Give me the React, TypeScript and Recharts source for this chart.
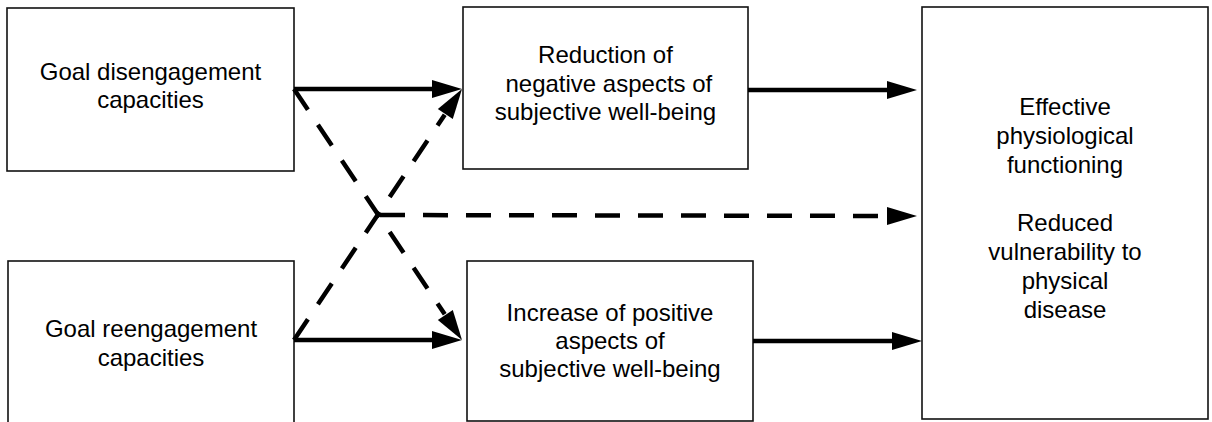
import React from "react"
import { ComposedChart, XAxis, YAxis, ReferenceArea, ReferenceLine } from "recharts"

// diagram text, one entry per box
const disengageLines = ["Goal disengagement", "capacities"]
const reengageLines = ["Goal reengagement", "capacities"]
const negativeLines = ["Reduction of", " negative aspects of", "subjective well-being"]
const positiveLines = ["Increase of positive", "aspects of", "subjective well-being"]
const outcomeLines = [
  "Effective",
  "physiological",
  "functioning",
  "",
  "Reduced",
  "vulnerability to",
  "physical",
  "disease",
]

// box extents in diagram units (x left→right, y top→bottom)
const boxes = [
  { x1: 7, x2: 294, y1: 8, y2: 171, lines: disengageLines, pad: 72, lh: 28 },
  { x1: 8, x2: 294, y1: 261, y2: 426, lines: reengageLines, pad: 76, lh: 29 },
  { x1: 463, x2: 748, y1: 7, y2: 169, lines: negativeLines, pad: 56, lh: 28.5 },
  { x1: 467, x2: 753, y1: 261, y2: 421, lines: positiveLines, pad: 60, lh: 28 },
  { x1: 922, x2: 1208, y1: 7, y2: 419, lines: outcomeLines, pad: 108, lh: 29 },
]

// paths between boxes: start → tip
const arrows = [
  { from: [294, 89], to: [462, 89], dashed: false },
  { from: [748, 90], to: [917, 90], dashed: false },
  { from: [294, 340], to: [462, 340], dashed: false },
  { from: [753, 341], to: [922, 341], dashed: false },
  { from: [294, 89], to: [462, 340], dashed: true },
  { from: [294, 340], to: [462, 89], dashed: true },
  { from: [380, 215], to: [917, 216], dashed: true },
]

const FONT = "'Liberation Sans', Arial, Helvetica, sans-serif"
const HEAD_LEN = 30
const HEAD_HALF = 9

function arrowShape(dashed: boolean) {
  return (p: any) => {
    const { x1, y1, x2, y2 } = p
    const dx = x2 - x1
    const dy = y2 - y1
    const len = Math.sqrt(dx * dx + dy * dy) || 1
    const ux = dx / len
    const uy = dy / len
    const bx = x2 - ux * HEAD_LEN
    const by = y2 - uy * HEAD_LEN
    const endX = x2 - ux * (HEAD_LEN - 2)
    const endY = y2 - uy * (HEAD_LEN - 2)
    const pts = [
      `${x2},${y2}`,
      `${bx - uy * HEAD_HALF},${by + ux * HEAD_HALF}`,
      `${bx + uy * HEAD_HALF},${by - ux * HEAD_HALF}`,
    ].join(" ")
    return (
      <g>
        <line
          x1={x1}
          y1={y1}
          x2={dashed ? x1 + ux * (len - HEAD_LEN - 1) : endX}
          y2={dashed ? y1 + uy * (len - HEAD_LEN - 1) : endY}
          stroke="#000"
          strokeWidth={4.5}
          strokeDasharray={dashed ? "25 18" : undefined}
          strokeLinecap="butt"
        />
        <polygon points={pts} fill="#000" />
      </g>
    )
  }
}

function boxShape(lines: string[], pad: number, lh: number) {
  return (p: any) => {
    const { x, y, width, height } = p
    const cx = x + width / 2
    return (
      <g>
        <rect x={x} y={y} width={width} height={height} fill="#fff" stroke="#111" strokeWidth={1.6} />
        <text textAnchor="middle" fontFamily={FONT} fontSize={24} fill="#000">
          {lines.map((t, i) => (
            <tspan key={i} x={cx} y={y + pad + i * lh} style={{ whiteSpace: "pre" }}>
              {t}
            </tspan>
          ))}
        </text>
      </g>
    )
  }
}

export default function App() {
  return (
    <div style={{ position: "absolute", left: 0, top: 0, width: 1212, height: 422, background: "#fff" }}>
      <ComposedChart width={1212} height={422} margin={{ top: 0, right: 0, bottom: 0, left: 0 }}>
        <XAxis type="number" dataKey="x" domain={[0, 1212]} allowDataOverflow hide />
        <YAxis type="number" dataKey="y" domain={[0, 422]} allowDataOverflow reversed hide />
        {boxes.map((b, i) => (
          <ReferenceArea
            key={"b" + i}
            x1={b.x1}
            x2={b.x2}
            y1={b.y1}
            y2={b.y2}
            ifOverflow="visible"
            shape={boxShape(b.lines, b.pad, b.lh)}
          />
        ))}
        {arrows.map((a, i) => (
          <ReferenceLine
            key={"a" + i}
            segment={[
              { x: a.from[0], y: a.from[1] },
              { x: a.to[0], y: a.to[1] },
            ]}
            ifOverflow="visible"
            shape={arrowShape(a.dashed)}
          />
        ))}
      </ComposedChart>
    </div>
  )
}
